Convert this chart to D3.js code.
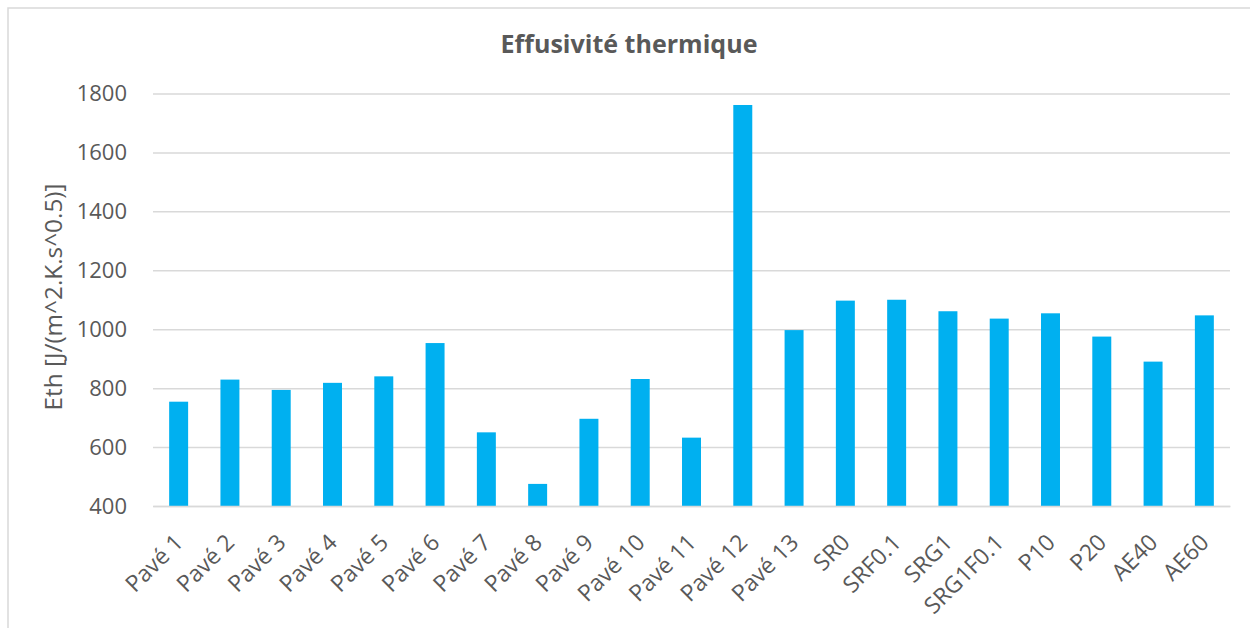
<!DOCTYPE html>
<html>
<head>
<meta charset="utf-8">
<script src="https://cdn.jsdelivr.net/npm/d3@7"></script>
<style>
  html, body { margin: 0; padding: 0; background: #fff; }
  svg { display: block; }
  text { font-family: "Open Sans", Lato, sans-serif; fill: #595959; }
</style>
</head>
<body>
<svg id="chart" width="1250" height="628"></svg>
<script>
// Thermal effusivity per sample
const categories = ["Pavé 1", "Pavé 2", "Pavé 3", "Pavé 4", "Pavé 5", "Pavé 6", "Pavé 7",
  "Pavé 8", "Pavé 9", "Pavé 10", "Pavé 11", "Pavé 12", "Pavé 13",
  "SR0", "SRF0.1", "SRG1", "SRG1F0.1", "P10", "P20", "AE40", "AE60"];
const effusivity = [754, 829, 794, 818, 840, 953, 650, 475, 696, 831, 632, 1761, 997,
  1097, 1100, 1061, 1036, 1054, 975, 890, 1047];
const yTicks = [400, 600, 800, 1000, 1200, 1400, 1600, 1800];

const titleText = "Effusivité thermique";
const yLabelText = "Eth [J/(m^2.K.s^0.5)]";

const svg = d3.select("#chart");
const W = 1250, H = 628;
const plot = { left: 153, right: 1230, top: 93.5, bottom: 506 };
const FONT = "'Open Sans', Lato, sans-serif";

// scale a text's font size so that it spans the wanted length
function fitText(sel, target, size) {
  sel.attr("font-size", size);
  const len = sel.node().getComputedTextLength();
  sel.attr("font-size", (size * target / len).toFixed(2));
}

// chart frame
svg.append("rect")
  .attr("x", 8).attr("y", 8).attr("width", W).attr("height", H)
  .attr("fill", "#fff").attr("stroke", "#d9d9d9").attr("stroke-width", 1.5);

const x = d3.scaleBand().domain(categories)
  .range([plot.left, plot.right]).paddingInner(0.63).paddingOuter(0.315);
const y = d3.scaleLinear().domain([400, 1800]).range([plot.bottom, plot.top]);

// gridlines + y tick labels
const yAxis = d3.axisLeft(y).tickValues(yTicks)
  .tickSize(-(plot.right - plot.left)).tickPadding(26).tickFormat(d3.format("d"));
const gy = svg.append("g").attr("transform", `translate(${plot.left},0)`).call(yAxis);
gy.select(".domain").remove();
gy.selectAll(".tick line").attr("stroke", "#d9d9d9").attr("stroke-width", 1.5);
gy.selectAll(".tick text").attr("font-size", 22).attr("fill", "#595959")
  .attr("font-family", FONT);

// bars
svg.append("g").selectAll("rect").data(categories).join("rect")
  .attr("x", d => x(d))
  .attr("width", x.bandwidth())
  .attr("y", (d, i) => y(effusivity[i]))
  .attr("height", (d, i) => y(400) - y(effusivity[i]))
  .attr("fill", "#00b0f0");

// category axis
const xAxis = d3.axisBottom(x).tickSize(0).tickPadding(0);
const gx = svg.append("g").attr("transform", `translate(0,${plot.bottom})`).call(xAxis);
gx.select(".domain").attr("stroke", "#d9d9d9").attr("stroke-width", 1.5);
gx.selectAll(".tick text")
  .attr("font-size", 23).attr("fill", "#595959").attr("font-family", FONT)
  .attr("text-anchor", "end")
  .attr("dy", null).attr("y", 0)
  .attr("transform", "translate(6,38) rotate(-45)");

// title
const title = svg.append("text")
  .attr("x", 629).attr("y", 53)
  .attr("text-anchor", "middle")
  .attr("font-weight", "bold")
  .text(titleText);
fitText(title, 257, 22);

// y axis title
const yl = svg.append("text")
  .attr("transform", `translate(62,297) rotate(-90)`)
  .attr("text-anchor", "middle")
  .text(yLabelText);
fitText(yl, 227, 20);
</script>
</body>
</html>
